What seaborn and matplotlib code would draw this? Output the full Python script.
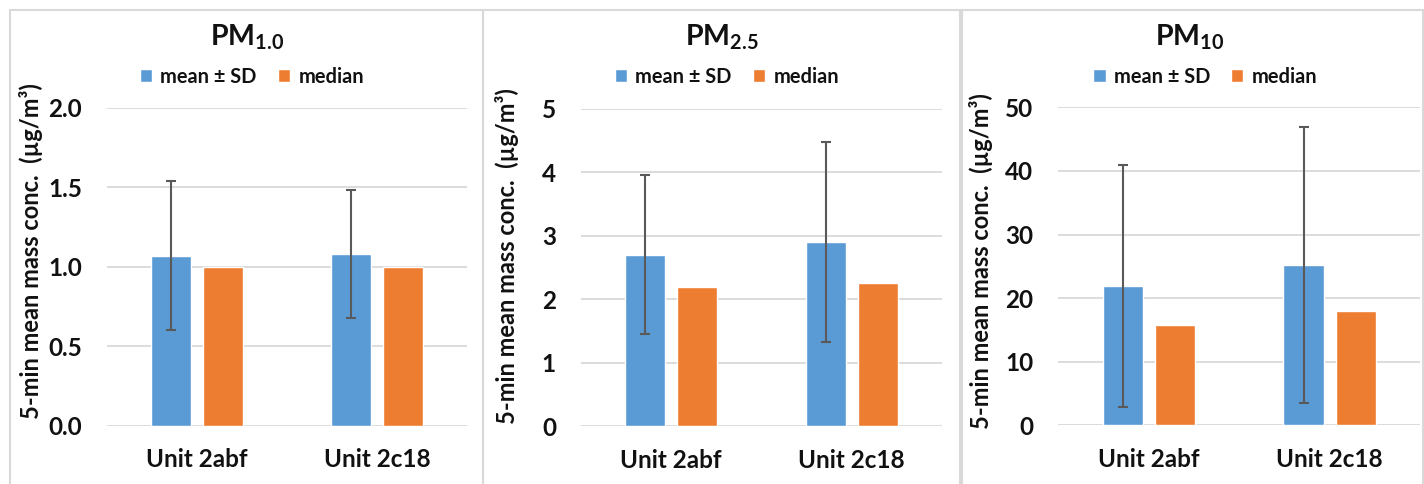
import numpy as np
import pandas as pd
import matplotlib
matplotlib.use("Agg")
import matplotlib.pyplot as plt
from matplotlib.patches import Rectangle
import seaborn as sns

# ---------------- data ----------------
units = ["Unit 2abf", "Unit 2c18"]
series = ["mean \u00b1 SD", "median"]
panel_titles = [r"$\mathbf{PM}_{1.0}$", r"$\mathbf{PM}_{2.5}$", r"$\mathbf{PM}_{10}$"]

pm1_mean = [1.07, 1.08]
pm1_sd = [0.47, 0.40]
pm1_median = [1.00, 1.00]

pm25_mean = [2.70, 2.90]
pm25_sd = [1.25, 1.58]
pm25_median = [2.19, 2.25]

pm10_mean = [21.9, 25.2]
pm10_sd = [19.0, 21.7]
pm10_median = [15.8, 17.9]

pm1_ticks = [0.0, 0.5, 1.0, 1.5, 2.0]
pm1_ticklabels = ["0.0", "0.5", "1.0", "1.5", "2.0"]
pm25_ticks = [0, 1, 2, 3, 4, 5]
pm25_ticklabels = ["0", "1", "2", "3", "4", "5"]
pm10_ticks = [0, 10, 20, 30, 40, 50]
pm10_ticklabels = ["0", "10", "20", "30", "40", "50"]

ylabel = "5-min mean mass conc.  (\u00b5g/m\u00b3)"

# ---------------- style ----------------
sns.set_style("white")
plt.rcParams["font.family"] = ["Lato", "DejaVu Sans"]
plt.rcParams["font.weight"] = "bold"
plt.rcParams["mathtext.fontset"] = "custom"
plt.rcParams["mathtext.rm"] = "Lato"
plt.rcParams["mathtext.bf"] = "Lato:bold"
plt.rcParams["mathtext.it"] = "Lato:italic"

BLUE = "#5B9BD5"
ORANGE = "#ED7D31"
GRID = "#D9D9D9"
TEXT = "#111111"

W, H = 1424, 484
fig = plt.figure(figsize=(W / 100, H / 100), dpi=100)
fig.patch.set_facecolor("white")

def fx(px):
    return px / W

def fy(py):
    return 1 - py / H

# panel boxes (pixels: left, right)
boxes = [(10, 483), (483, 960), (962, 1423)]
for (l, r) in boxes:
    fig.patches.append(Rectangle((fx(l), fy(H + 5)), fx(r) - fx(l), fy(10) - fy(H + 5),
                                 transform=fig.transFigure, fill=False,
                                 edgecolor=GRID, linewidth=1.5, zorder=0))

# axes positions in pixels: left, right, y0(px of zero), ytop(px of max)
axpos = [(107, 467, 425.7, 107.7), (581, 942, 426.3, 108.7), (1058.3, 1420, 425.3, 107.3)]
label_coords = [(-0.178, 0.548), (-0.172, 0.535), (-0.18, 0.517)]

panels = [
    (pm1_mean, pm1_sd, pm1_median, pm1_ticks, pm1_ticklabels),
    (pm25_mean, pm25_sd, pm25_median, pm25_ticks, pm25_ticklabels),
    (pm10_mean, pm10_sd, pm10_median, pm10_ticks, pm10_ticklabels),
]

for i, (mean, sd, med, ticks, tlabels) in enumerate(panels):
    l, r, y0, yt = axpos[i]
    ax = fig.add_axes([fx(l), fy(y0), fx(r) - fx(l), fy(yt) - fy(y0)])
    df = pd.DataFrame({
        "unit": units * 2,
        "series": [series[0]] * 2 + [series[1]] * 2,
        "value": list(mean) + list(med),
    })
    sns.barplot(data=df, x="unit", y="value", hue="series", order=units,
                hue_order=series, palette=[BLUE, ORANGE], width=0.576, gap=0.23,
                errorbar=None, ax=ax, saturation=1, legend=True)
    bars = ax.containers[0]
    xs = [b.get_x() + b.get_width() / 2 for b in bars]
    ax.errorbar(xs, mean, yerr=sd, fmt="none", ecolor="#595959",
                elinewidth=1.5, capsize=3.5, capthick=1.5, zorder=5)

    ax.set_ylim(ticks[0], ticks[-1])
    ax.set_xlim(-0.5, 1.5)
    ax.set_yticks(ticks)
    ax.set_yticklabels(tlabels)
    ax.grid(axis="y", color=GRID, linewidth=1.3)
    ax.set_axisbelow(True)
    for s in ax.spines.values():
        s.set_visible(False)
    ax.tick_params(axis="both", length=0, labelsize=17.5, labelcolor=TEXT)
    ax.tick_params(axis="y", pad=18)
    ax.tick_params(axis="x", pad=16)
    for t in ax.get_xticklabels() + ax.get_yticklabels():
        t.set_fontweight("bold")
    ax.set_xlabel("")
    ax.set_ylabel(ylabel, fontsize=17, fontweight="bold", color=TEXT)
    ax.yaxis.set_label_coords(*label_coords[i])

    # legend
    handles, labs = ax.get_legend_handles_labels()
    ax.get_legend().remove()
    lcx = [252, 727, 1205][i]
    ax.legend(handles, labs, loc="center", bbox_to_anchor=(fx(lcx), fy(77)),
              bbox_transform=fig.transFigure, ncol=2, frameon=False,
              handlelength=0.62, handleheight=0.62,
              handletextpad=0.4, columnspacing=1.05, labelcolor=TEXT,
              prop={"weight": "bold", "size": 14.4})

    tcx = [247, 722, 1190][i]
    fig.text(fx(tcx), fy(45), panel_titles[i], ha="center", va="baseline",
             fontsize=20.5, color=TEXT)

fig.savefig("out.png", dpi=100)
